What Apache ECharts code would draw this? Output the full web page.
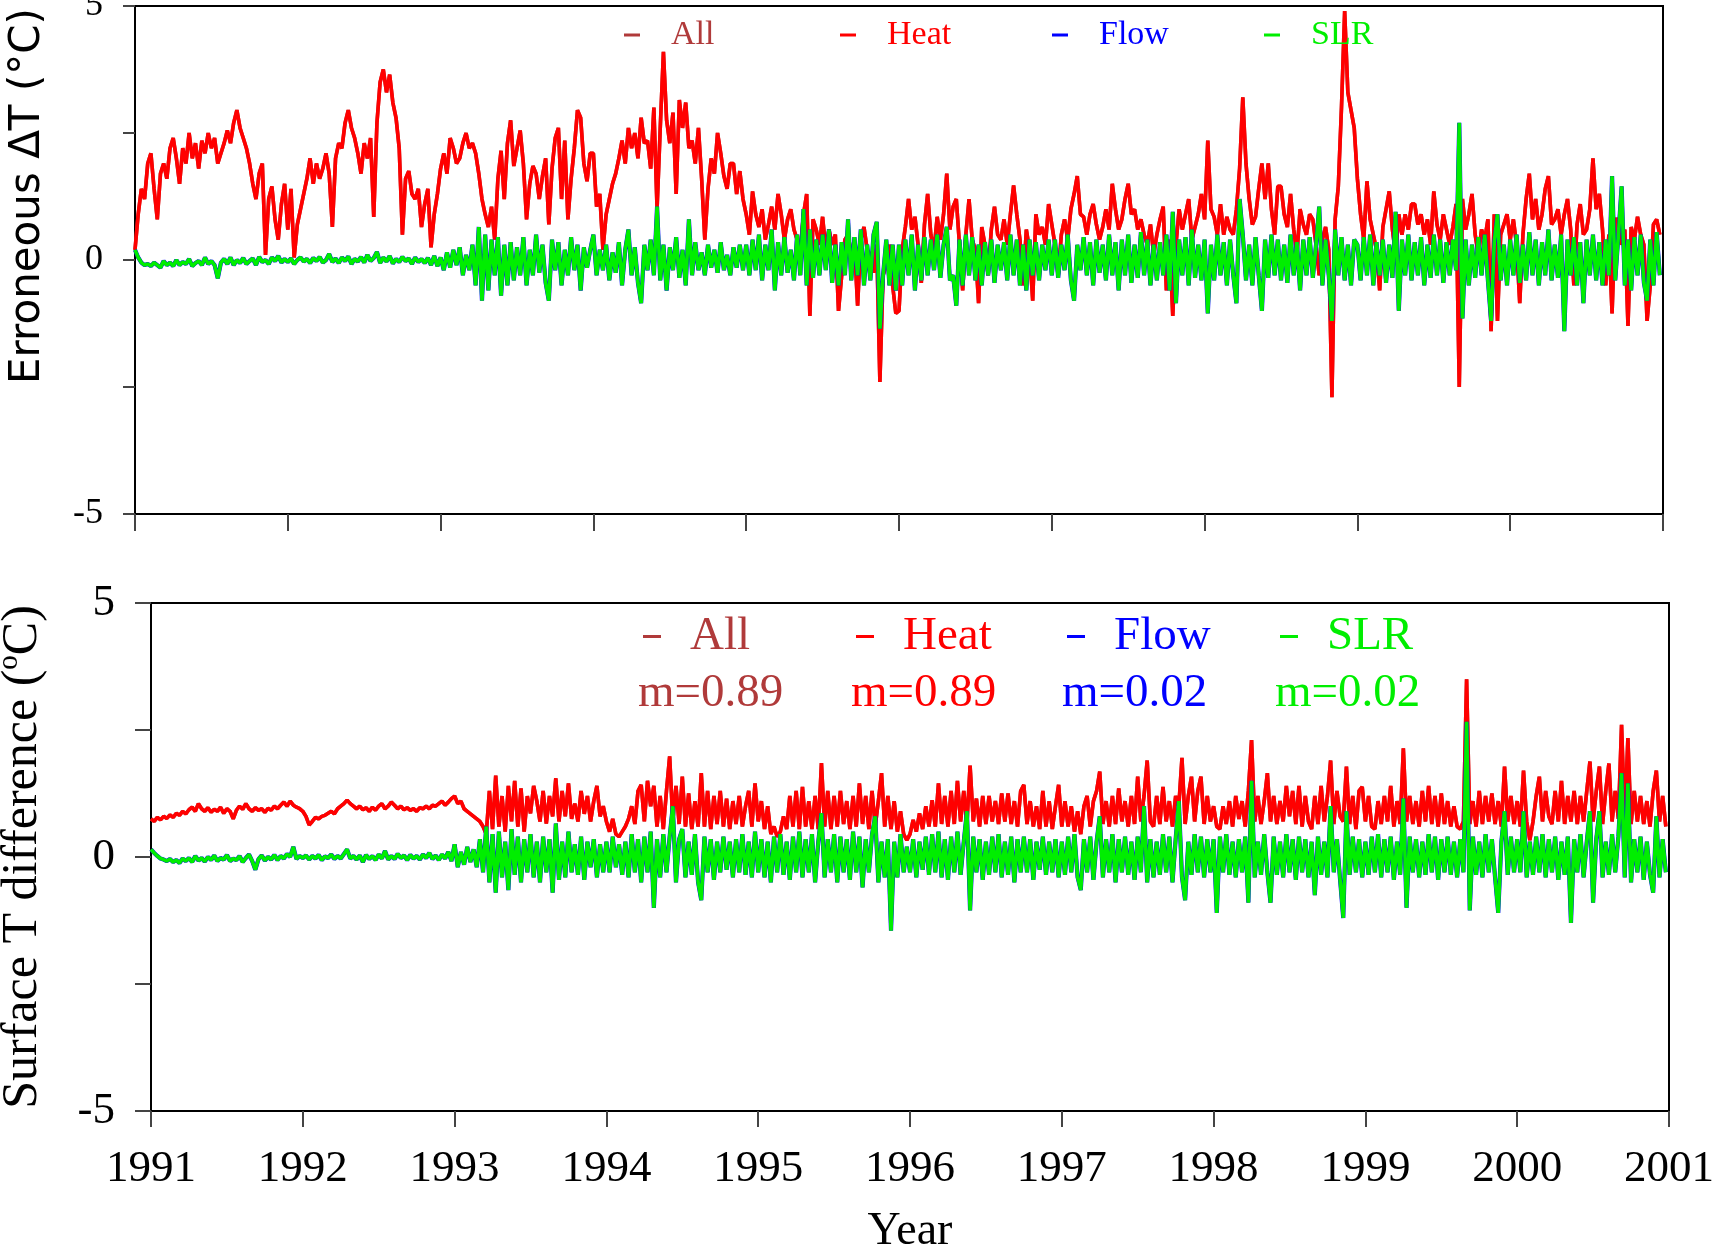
<!DOCTYPE html>
<html>
<head>
<meta charset="utf-8">
<title>Erroneous ΔT / Surface T difference</title>
<script src="https://cdn.jsdelivr.net/npm/echarts@6/dist/echarts.min.js"></script>
<style>
  html, body { margin: 0; padding: 0; background: #fff; }
  #chart { width: 1716px; height: 1254px; }
</style>
</head>
<body>
<div id="chart"></div>
<script>
// x axis: one tick per year
const yearTicks = [1991, 1992, 1993, 1994, 1995, 1996, 1997, 1998, 1999, 2000, 2001];
const seriesNames = ['All', 'Heat', 'Flow', 'SLR'];
const seriesColors = ['#b03a3a', '#ff0000', '#0000ff', '#00ee00'];
const meanLabels = ['m=0.89', 'm=0.89', 'm=0.02', 'm=0.02'];

// values, ~48 samples per year, one row per year (1991..2000)
// "All" lies under "Heat" and "Flow" under "SLR" in both panels, so they share rows
const topHeat = [
  [0.2, 0.9, 1.4, 1.2, 1.9, 2.1, 1.4, 0.8, 1.7, 1.9, 1.6, 2.2, 2.4, 2.0, 1.5, 2.2, 1.9, 2.5, 2.0, 2.3, 1.8, 2.35, 2.1, 2.5, 2.2, 2.4, 1.9, 2.1, 2.3, 2.55, 2.3, 2.7, 2.95, 2.6, 2.4, 2.2, 1.9, 1.5, 1.2, 1.7, 1.9, 0.1, 1.2, 1.45, 0.8, 0.4, 1.1, 1.5],
  [0.6, 1.4, 0.05, 0.7, 1.0, 1.3, 1.6, 2.0, 1.5, 1.9, 1.6, 1.8, 2.1, 1.7, 0.65, 2.0, 2.3, 2.2, 2.7, 2.95, 2.6, 2.4, 2.1, 1.7, 2.3, 2.0, 2.4, 0.85, 2.7, 3.5, 3.75, 3.3, 3.65, 3.1, 2.8, 2.2, 0.5, 1.6, 1.75, 1.3, 1.2, 1.4, 0.65, 1.1, 1.4, 0.25, 0.9, 1.3],
  [1.8, 2.1, 1.7, 2.4, 2.2, 1.9, 2.0, 2.3, 2.5, 2.2, 2.3, 2.1, 1.7, 1.2, 0.9, 0.65, 1.05, 0.4, 1.6, 2.15, 1.2, 2.3, 2.75, 1.85, 2.2, 2.55, 1.9, 0.8, 1.5, 1.85, 1.7, 1.2, 1.65, 2.0, 0.7, 1.8, 2.4, 2.6, 1.2, 2.35, 0.8, 1.6, 2.2, 2.95, 2.8, 1.9, 1.55, 2.1],
  [2.1, 1.05, 1.3, 0.2, 0.9, 1.2, 1.5, 1.7, 2.0, 2.35, 1.9, 2.6, 2.2, 2.5, 2.0, 2.8, 2.3, 2.35, 1.8, 3.0, 1.0, 2.6, 4.1, 2.75, 2.3, 2.9, 1.3, 3.15, 2.6, 3.1, 2.2, 2.35, 1.9, 2.6, 1.6, 0.4, 1.4, 2.0, 1.7, 2.5, 2.1, 1.65, 1.4, 1.9, 1.9, 1.3, 1.75, 1.2],
  [0.9, 0.5, 1.35, 0.9, 0.65, 1.0, 0.4, 0.7, 1.05, 0.6, 1.3, 0.9, 0.4, 0.8, 1.0, 0.6, 0.4, 0.2, 0.9, 1.3, -1.1, 0.8, 0.6, 0.3, 0.85, 0.2, 0.6, 0.3, 0.5, -1.0, -0.3, 0.4, 0.5, 0.1, 0.3, -0.9, 0.4, 0.65, 0.2, 0.1, -0.25, 0.3, -2.4, -0.3, -0.1, 0.3, -0.5, -1.05],
  [-1.0, 0.2, 0.65, 1.2, 0.6, 0.85, 0.3, -0.45, 0.7, 1.3, 0.5, 0.2, 0.85, 0.4, 0.9, 1.7, 0.6, 1.05, 1.2, 0.3, -0.6, 0.5, 1.2, 0.4, 0.2, -0.85, 0.65, 0.3, -0.3, 0.6, 1.05, 0.5, 0.4, 0.8, 0.3, 0.9, 1.47, 0.9, 0.4, -0.5, 0.6, 0.2, -0.8, 0.9, 0.5, 0.65, 0.3, 1.1],
  [0.7, 0.3, -0.3, 0.5, 0.8, 0.4, 1.0, 1.3, 1.65, 0.9, 0.85, 0.5, 0.9, 1.1, 0.7, 0.4, 0.65, 1.0, 0.6, 1.5, 1.0, 0.6, 0.8, 1.2, 1.5, 0.9, 1.0, 0.6, 0.8, 0.5, 0.3, 0.7, 0.1, 0.5, 0.8, 1.05, -0.6, 0.4, -1.1, 0.3, 1.0, 0.6, 0.9, 1.2, 0.4, 0.65, 0.9, 1.3],
  [0.8, 2.35, 1.0, 0.85, 0.5, 1.1, 0.5, 0.85, 0.6, 0.5, 1.0, 1.8, 3.2, 1.9, 1.2, 0.7, 0.85, 1.4, 1.9, 1.2, 1.9, 1.0, 0.5, 1.45, 1.45, 0.9, 0.65, 1.3, 0.6, 0.1, 1.0, 0.7, 0.5, 0.9, 0.8, 0.3, -0.3, 0.4, 0.65, 0.2, -2.7, 0.8, 1.45, 3.0, 4.9, 3.3, 2.95, 2.6],
  [1.6, 0.9, 0.4, 1.55, 0.8, 0.5, 0.2, -0.6, 0.65, 1.0, 1.35, 0.6, 0.1, 0.9, 0.5, 0.9, 0.6, 1.1, 1.1, 0.7, 0.9, 0.5, 0.8, 0.3, 1.35, 0.7, 0.4, 0.9, 0.6, 0.3, 0.65, 1.1, -2.5, 1.2, 0.6, 0.9, 1.3, 0.5, 0.1, 0.6, 0.4, 0.8, -1.4, 0.9, -1.2, 0.5, 0.7, 0.9],
  [0.4, 0.8, 0.3, -0.85, 0.5, 1.2, 1.7, 0.8, 1.2, 0.6, 0.9, 1.4, 1.65, 0.7, 0.8, 1.0, 0.5, 0.9, 1.2, 0.6, -0.5, 0.7, 1.1, 0.5, 0.6, 1.0, 2.0, 1.0, 1.3, 0.6, -0.5, 0.5, -1.05, 0.8, 0.8, 0.3, 0.6, -1.3, 0.65, 0.4, 0.85, 0.5, 0.3, -1.2, -0.5, 0.7, 0.8, 0.5]
];

const topSLR = [
  [0.2, 0.05, -0.05, -0.1, -0.08, -0.12, -0.05, -0.1, -0.15, -0.02, -0.1, -0.05, -0.12, 0.0, -0.1, -0.04, -0.08, 0.02, -0.12, -0.06, -0.02, -0.1, 0.05, -0.08, -0.02, -0.1, -0.36, -0.05, 0.02, -0.08, 0.05, -0.1, 0.0, -0.06, 0.04, -0.08, -0.02, 0.03, -0.1, 0.06, -0.04, 0.0, -0.08, 0.05, -0.02, 0.08, -0.05, 0.02],
  [-0.04, 0.03, -0.08, 0.0, 0.05, -0.03, 0.02, -0.06, 0.04, -0.02, 0.06, -0.05, 0.0, 0.12, -0.04, 0.03, -0.06, 0.05, -0.02, 0.07, -0.08, 0.02, -0.03, 0.06, -0.05, 0.1, -0.02, 0.04, 0.16, -0.06, 0.05, -0.03, 0.08, -0.07, 0.02, -0.04, 0.06, -0.02, 0.03, -0.08, 0.05, -0.04, 0.02, -0.06, 0.04, -0.1, 0.08, -0.12],
  [0.05, -0.2, 0.15, -0.15, 0.2, -0.1, 0.25, -0.3, 0.1, -0.2, 0.3, -0.5, 0.65, -0.8, 0.5, -0.6, 0.4, -0.3, 0.45, -0.7, 0.3, -0.5, 0.35, -0.4, 0.25, -0.3, 0.45, -0.5, 0.2, -0.3, 0.5, -0.25, 0.3, -0.45, -0.8, 0.4, -0.2, 0.35, -0.5, 0.2, -0.3, 0.45, -0.2, 0.3, -0.6, 0.25, -0.15, 0.2],
  [0.5, -0.3, 0.2, -0.2, 0.3, -0.4, 0.15, -0.25, 0.35, -0.5, 0.2, 0.6, -0.3, 0.25, -0.45, -0.85, 0.3, -0.2, 0.4, -0.3, 1.05, -0.4, 0.3, -0.6, 0.25, -0.2, 0.45, -0.35, 0.2, -0.5, 0.8, -0.3, 0.35, -0.2, 0.15, -0.3, 0.3, -0.15, 0.2, -0.25, 0.35, -0.2, 0.1, -0.3, 0.25, -0.15, 0.3, -0.2],
  [0.3, -0.3, 0.4, -0.2, 0.5, -0.4, 0.3, -0.2, 0.6, -0.6, 0.35, -0.3, 0.45, -0.25, 0.2, -0.4, 0.5, -0.3, 1.0, -0.5, 0.6, -0.35, 0.4, -0.3, 0.5, -0.2, 0.6, -0.45, 0.3, -0.5, 0.35, -0.3, 0.8, -0.4, 0.45, -0.3, 0.6, -0.5, 0.3, -0.4, 0.5, 0.75, -1.35, -0.3, 0.4, -0.5, 0.3, -0.6],
  [0.3, -0.5, 0.4, -0.3, 0.5, -0.6, 0.3, -0.4, 0.45, -0.3, 0.4, -0.2, 0.5, -0.35, 0.3, 0.65, -0.4, -0.3, -0.9, 0.4, -0.5, 0.5, -0.3, 0.45, -0.4, 0.3, -0.5, 0.35, -0.3, 0.4, -0.45, 0.3, -0.2, 0.35, -0.4, 0.5, -0.3, 0.4, -0.5, 0.3, -0.6, 0.4, -0.3, 0.35, -0.4, 0.3, -0.2, 0.4],
  [-0.3, 0.4, -0.35, 0.3, -0.2, 0.5, -0.4, -0.8, 0.3, -0.2, 0.45, -0.3, 0.35, -0.5, 0.4, -0.25, 0.3, -0.4, 0.5, -0.3, 0.35, -0.6, 0.4, -0.3, 0.5, -0.45, 0.3, -0.35, 0.55, -0.3, 0.4, -0.5, 0.3, -0.4, 0.35, -0.3, 0.5, -0.6, 0.95, -0.85, 0.4, -0.3, 0.45, -0.5, 0.6, -0.35, 0.3, -0.4],
  [0.4, -1.05, 0.3, -0.4, 0.5, -0.3, 0.35, -0.5, 0.4, -0.3, -0.85, 1.2, 0.5, -0.4, 0.3, -0.5, 0.45, -0.3, -1.0, 0.4, -0.35, 0.5, -0.3, 0.4, -0.4, 0.3, -0.45, 0.5, -0.3, 0.35, -0.6, 0.4, -0.3, 0.45, -0.35, 0.3, 1.05, -0.5, 0.4, -0.3, -1.2, 0.6, -0.3, 0.45, -0.4, 0.3, -0.5, 0.4],
  [0.3, -0.4, 0.45, -0.3, 0.5, -0.5, 0.35, -0.3, 0.4, -0.45, 0.3, -0.35, 0.95, -1.0, 0.4, -0.3, 0.5, -0.4, 0.35, -0.3, 0.45, -0.5, 0.3, -0.35, 0.5, -0.3, 0.4, -0.45, 0.35, -0.3, 0.4, -0.2, 2.7, -1.15, 0.4, -0.5, 0.3, -0.35, 0.45, -0.3, 0.5, -0.4, -1.2, 0.35, 0.9, -0.4, 0.3, -0.5],
  [0.4, -0.3, 0.5, -0.45, 0.3, -0.4, 0.55, -0.3, 0.4, -0.5, 0.35, -0.3, 0.6, -0.4, 0.3, -0.35, 0.5, -1.4, 0.4, -0.3, 0.45, -0.5, 0.35, -0.85, 0.4, -0.3, 0.5, -0.4, 0.35, -0.5, 0.4, -0.3, 1.65, -0.4, 0.5, 1.45, -0.5, 0.4, -0.6, 0.45, -0.3, 0.5, -0.45, -0.8, 0.4, -0.5, 0.55, -0.3]
];

const botHeat = [
  [0.75, 0.7, 0.78, 0.73, 0.8, 0.76, 0.83, 0.78, 0.86, 0.82, 0.9, 0.85, 0.93, 0.98, 0.9, 1.05, 0.95, 0.9, 0.97, 0.88, 0.94, 0.9, 0.98, 0.86, 0.95, 0.9, 0.75, 0.92, 1.0, 0.94, 1.05, 0.95, 0.9, 0.97, 0.92, 0.95, 0.88, 0.96, 0.92, 1.0, 0.95, 1.02, 1.08, 1.0, 1.1, 1.02, 0.98, 0.95],
  [0.9, 0.8, 0.63, 0.7, 0.78, 0.75, 0.8, 0.82, 0.86, 0.9, 0.85, 0.95, 1.0, 1.05, 1.12, 1.05, 1.0, 0.95, 1.0, 0.93, 0.97, 0.9, 0.98, 0.92, 1.0, 1.05, 0.95, 1.0, 1.08, 1.02, 0.95, 1.0, 0.93, 0.97, 0.92, 0.95, 0.9, 0.97, 0.95, 1.0, 0.95, 1.02, 1.0, 1.05, 1.1, 1.02, 1.08, 1.15],
  [1.2, 1.05, 1.1, 0.95, 0.9, 0.85, 0.8, 0.75, 0.7, 0.6, 0.45, 1.3, 0.55, 1.6, 0.6, 1.2, 0.5, 1.4, 0.7, 1.5, 0.6, 1.35, 0.5, 1.2, 0.86, 1.4, 1.1, 0.7, 1.3, 0.66, 1.2, 0.8, 1.55, 0.7, 1.3, 0.8, 1.45, 0.75, 1.05, 0.7, 1.3, 0.85, 1.2, 0.7, 1.1, 1.4, 0.8, 1.0],
  [0.7, 0.5, 0.75, 0.45, 0.4, 0.5, 0.6, 0.75, 1.0, 0.65, 1.3, 1.42, 0.7, 1.5, 1.0, 1.4, 0.6, 1.2, 0.55, 1.3, 1.98, 0.7, 1.4, 0.65, 1.58, 0.6, 1.25, 0.55, 1.1, 0.6, 1.65, 0.6, 1.3, 0.55, 1.2, 0.65, 1.3, 0.6, 1.15, 0.55, 1.1, 0.65, 1.2, 0.6, 1.0, 1.3, 0.6, 1.45],
  [0.7, 1.1, 0.55, 1.0, 0.45, 0.6, 0.4, 0.5, 0.8, 0.55, 1.2, 0.6, 1.3, 0.55, 1.38, 0.6, 1.1, 0.55, 1.2, 0.55, 1.85, 0.6, 1.3, 0.55, 1.2, 0.6, 1.3, 0.65, 1.1, 0.55, 1.2, 0.6, 1.45, 0.65, 1.2, 0.55, 1.3, 0.6, 1.1, 1.65, 0.6, 1.2, 0.55, 1.1, 0.5, 0.9, 0.45, 0.33],
  [0.45, 0.73, 0.5, 0.86, 0.55, 1.0, 0.6, 1.12, 0.6, 1.45, 0.65, 1.2, 0.6, 1.3, 0.65, 1.5, 0.7, 1.3, 0.65, 1.8, 0.7, 1.15, 0.6, 1.2, 0.65, 1.2, 0.7, 1.1, 0.65, 1.25, 0.7, 1.25, 0.65, 1.1, 0.6, 1.3, 1.42, 0.65, 1.1, 0.6, 1.0, 0.55, 1.3, 0.6, 1.1, 0.55, 1.0, 1.42],
  [0.6, 1.1, 0.6, 1.0, 0.5, 0.9, 0.45, 1.0, 1.2, 0.6, 1.1, 1.3, 1.68, 0.65, 1.1, 0.6, 1.2, 0.65, 1.35, 0.7, 1.1, 0.6, 1.2, 0.65, 1.58, 0.7, 1.2, 1.9, 0.7, 0.6, 1.2, 0.65, 1.38, 0.7, 1.1, 0.6, 1.2, 1.0, 1.95, 0.65, 1.2, 1.58, 0.7, 1.3, 1.58, 0.65, 1.2, 0.7],
  [1.0, 0.6, 0.55, 1.0, 0.65, 1.1, 0.6, 1.2, 0.75, 1.1, 0.6, 1.3, 2.3, 0.7, 1.2, 0.65, 1.1, 1.65, 0.7, 1.2, 0.65, 1.1, 0.7, 1.4, 0.8, 1.3, 0.65, 1.4, 0.6, 1.2, 0.7, 0.55, 1.2, 0.65, 1.4, 0.7, 1.2, 1.9, 0.65, 1.3, 0.8, 0.7, 1.78, 0.65, 1.2, 0.55, 1.3, 1.38],
  [0.7, 1.2, 0.6, 0.55, 1.1, 0.65, 1.2, 0.7, 1.4, 0.6, 1.1, 0.65, 2.14, 0.7, 1.2, 0.65, 1.1, 0.6, 1.3, 0.7, 1.4, 0.65, 1.2, 0.6, 1.25, 0.65, 1.1, 0.6, 1.0, 0.6, 0.55, 0.7, 3.5, 0.65, 1.1, 0.6, 1.3, 0.65, 1.2, 0.7, 1.25, 0.65, 1.1, 0.6, 1.78, 0.7, 1.2, 0.65],
  [1.1, 0.6, 1.7, 0.7, 0.33, 0.7, 1.2, 1.58, 0.7, 1.3, 0.8, 0.65, 1.3, 0.7, 1.5, 0.65, 1.2, 0.7, 1.3, 0.65, 1.2, 0.7, 1.3, 1.88, 0.7, 1.3, 1.78, 0.65, 1.3, 1.84, 0.7, 1.3, 0.75, 2.6, 0.7, 2.34, 0.65, 1.3, 0.7, 1.2, 0.65, 1.1, 0.6, 1.3, 1.7, 0.7, 1.2, 0.6]
];

const botSLR = [
  [0.15, 0.08, 0.02, -0.03, -0.05, -0.08, -0.04, -0.1, -0.06, -0.12, -0.03, -0.08, -0.02, -0.1, 0.02, -0.07, -0.02, -0.09, 0.0, -0.06, 0.03, -0.08, -0.02, -0.05, 0.04, -0.08, -0.03, -0.06, 0.02, -0.1, -0.02, 0.05, -0.08, -0.25, -0.04, 0.03, -0.07, 0.0, -0.05, 0.04, -0.06, 0.02, -0.03, 0.06, 0.0, 0.2, -0.04, 0.02],
  [-0.02, 0.03, -0.05, 0.02, -0.03, 0.04, -0.06, 0.01, -0.02, 0.05, -0.04, 0.02, -0.03, 0.06, 0.15, -0.03, 0.02, -0.05, 0.03, -0.1, 0.04, -0.04, 0.02, -0.06, 0.05, -0.03, 0.12, -0.05, 0.02, -0.04, 0.06, -0.02, 0.03, -0.06, 0.04, -0.03, 0.02, -0.05, 0.05, -0.02, 0.08, -0.04, 0.03, -0.06, 0.05, -0.03, 0.1, -0.08],
  [0.25, -0.2, 0.1, -0.15, 0.2, -0.1, 0.15, -0.2, 0.35, -0.3, 0.6, -0.5, 0.45, -0.7, 0.5, -0.4, 0.3, -0.65, 0.55, -0.35, 0.4, -0.5, 0.35, -0.3, 0.45, -0.4, 0.3, -0.5, 0.4, -0.3, 0.35, -0.7, 0.66, -0.45, 0.3, -0.4, 0.5, -0.3, 0.25, -0.35, 0.4, -0.45, 0.3, -0.2, 0.35, -0.4, 0.25, -0.3],
  [0.3, -0.3, 0.4, -0.2, 0.25, -0.35, 0.3, -0.4, 0.45, -0.3, 0.35, -0.5, 0.4, -0.3, 0.5, -1.0, 0.35, -0.4, 0.45, -0.3, 0.4, 1.0, -0.5, 0.35, 0.55, -0.4, 0.3, -0.35, 0.45, -0.5, -0.85, 0.4, -0.3, 0.35, -0.45, 0.3, -0.3, 0.4, -0.25, 0.3, -0.4, 0.35, -0.3, 0.45, -0.35, 0.3, -0.4, 0.5],
  [-0.3, 0.35, -0.4, 0.3, -0.5, 0.4, -0.3, 0.45, -0.35, 0.3, -0.45, 0.4, -0.3, 0.5, -0.4, 0.35, -0.3, 0.45, -0.5, 0.3, 0.86, -0.4, 0.35, -0.3, 0.45, -0.5, 0.4, -0.3, 0.35, -0.45, 0.5, -0.3, 0.4, -0.6, 0.35, -0.3, 0.45, 0.8, -0.5, 0.3, -0.4, 0.35, -1.45, 0.3, -0.4, 0.45, -0.3, 0.2],
  [-0.3, 0.35, -0.4, 0.3, -0.25, 0.4, -0.35, 0.45, -0.3, 0.5, -0.4, 0.35, -0.45, 0.4, -0.3, 0.5, -0.35, 0.3, 0.9, -1.05, 0.4, -0.3, 0.35, -0.45, 0.3, -0.35, 0.4, -0.3, 0.45, -0.4, 0.3, -0.35, 0.4, -0.5, 0.35, -0.3, 0.4, -0.3, 0.35, -0.45, 0.3, -0.25, 0.4, -0.35, 0.3, -0.3, 0.35, -0.4],
  [0.3, -0.35, 0.4, -0.3, 0.45, -0.4, -0.65, 0.35, -0.3, 0.4, -0.45, 0.3, 0.8, -0.4, 0.35, -0.3, 0.45, -0.5, 0.35, -0.3, 0.4, -0.35, 0.3, -0.45, 0.4, -0.3, 1.0, -0.5, 0.35, -0.4, 0.3, -0.35, 0.45, -0.3, 0.4, -0.5, 0.35, 1.1, -0.4, -0.85, 0.3, -0.35, 0.45, -0.3, 0.4, -0.4, 0.35, -0.3],
  [0.35, -1.1, 0.4, -0.3, 0.45, -0.35, 0.3, -0.4, 0.35, -0.3, 0.4, -0.9, 1.5, -0.4, 0.3, -0.35, 0.45, -0.3, -0.9, 0.4, -0.35, 0.3, -0.4, 0.45, -0.3, 0.35, -0.45, 0.4, -0.3, 0.35, -0.4, 0.3, -0.75, 0.4, -0.35, 0.3, -0.4, 1.0, -0.3, 0.35, -0.45, -1.2, 0.9, -0.35, 0.4, -0.3, 0.35, -0.4],
  [0.3, -0.35, 0.4, -0.3, 0.45, -0.4, 0.35, -0.3, 0.4, -0.45, 0.3, -0.35, 1.15, -1.0, 0.4, -0.3, 0.35, -0.4, 0.3, -0.35, 0.45, -0.3, 0.4, -0.45, 0.35, -0.3, 0.4, -0.35, 0.3, -0.4, 0.35, -0.3, 2.66, -1.05, 0.4, -0.35, 0.3, -0.4, 0.45, -0.3, 0.35, -0.4, -1.1, 0.3, 0.9, -0.35, 0.4, -0.3],
  [0.35, -0.3, 0.9, -0.4, 0.3, -0.35, 0.4, -0.3, 0.45, -0.4, 0.35, -0.3, 0.4, -0.45, 0.3, -0.35, 0.4, -1.3, 0.35, -0.3, 0.45, -0.4, 0.3, 0.9, -0.9, 0.35, 0.9, -0.4, 0.3, -0.35, 0.45, -0.3, 0.4, 1.65, -0.4, 1.45, -0.5, 0.35, -0.3, 0.4, -0.45, 0.3, -0.35, -0.7, 0.8, -0.4, 0.35, -0.3]
];

// turn year rows into [decimal year, value] pairs
function toPoints(rows) {
  return rows.flatMap((row, y) => row.map((v, k) => [yearTicks[y] + k / row.length, v]));
}

const panelData = [
  [toPoints(topHeat), toPoints(topHeat), toPoints(topSLR), toPoints(topSLR)],
  [toPoints(botHeat), toPoints(botHeat), toPoints(botSLR), toPoints(botSLR)]
];
const lineWidths = [3.6, 3.6, 4.2, 3.6];

const serif = 'Liberation Serif';
const topLegendX = [619, 835, 1047, 1259];
const botLegendX = [638, 851, 1062, 1275];

let myChart = echarts.init(document.getElementById('chart'));

let series = [];
panelData.forEach((panel, p) => {
  panel.forEach((data, i) => {
    series.push({
      name: seriesNames[i],
      type: 'line',
      xAxisIndex: p,
      yAxisIndex: p,
      data: data,
      showSymbol: false,
      symbol: 'none',
      color: seriesColors[i],
      lineStyle: { color: seriesColors[i], width: lineWidths[i], join: 'bevel' },
      z: 2 + i
    });
  });
});

let legends = [];
seriesNames.forEach((n, i) => {
  legends.push({
    data: [n], left: topLegendX[i], top: 13, icon: 'rect',
    itemWidth: 16, itemHeight: 3, selectedMode: false,
    textStyle: { color: seriesColors[i], fontFamily: serif, fontSize: 34, padding: [0, 0, 0, 26] }
  });
  legends.push({
    data: [n], left: botLegendX[i], top: 608, icon: 'rect',
    itemWidth: 18, itemHeight: 3, selectedMode: false,
    textStyle: { color: seriesColors[i], fontFamily: serif, fontSize: 47, padding: [0, 0, 0, 24] }
  });
});

let graphics = meanLabels.map((t, i) => ({
  type: 'text', left: botLegendX[i], top: 670,
  style: { text: t, fill: seriesColors[i], font: '47px "Liberation Serif"' }
}));
graphics.push({
  type: 'text', x: 28, y: 196, rotation: Math.PI / 2,
  style: { text: 'Erroneous ΔT (°C)', fill: '#000', font: '42px "DejaVu Sans"', align: 'center', verticalAlign: 'middle' }
});

const yLabel = v => (v % 5 === 0 ? String(v) : '');

myChart.setOption({
  animation: false,
  backgroundColor: '#fff',
  legend: legends,
  graphic: graphics,
  grid: [
    { left: 135, right: 53, top: 6, height: 508, outerBoundsMode: 'none', show: true, borderColor: '#000', borderWidth: 2 },
    { left: 151, right: 47, top: 603, height: 508, outerBoundsMode: 'none', show: true, borderColor: '#000', borderWidth: 2 }
  ],
  xAxis: [
    {
      gridIndex: 0, type: 'value', min: 1991, max: 2001, interval: 1,
      axisLine: { onZero: false, lineStyle: { color: '#000', width: 2 } },
      axisTick: { length: 17, lineStyle: { color: '#444', width: 2 } },
      axisLabel: { show: false },
      splitLine: { show: false }
    },
    {
      gridIndex: 1, type: 'value', min: 1991, max: 2001, interval: 1,
      axisLine: { onZero: false, lineStyle: { color: '#000', width: 2 } },
      axisTick: { length: 16, lineStyle: { color: '#444', width: 2 } },
      axisLabel: { fontFamily: serif, fontSize: 45, color: '#000', margin: 36, formatter: v => String(v) },
      splitLine: { show: false },
      name: 'Year', nameLocation: 'middle', nameGap: 98,
      nameTextStyle: { fontFamily: serif, fontSize: 46, color: '#000' }
    }
  ],
  yAxis: [
    {
      gridIndex: 0, type: 'value', min: -5, max: 5, interval: 2.5,
      axisLine: { onZero: false, lineStyle: { color: '#000', width: 2 } },
      axisTick: { length: 12, lineStyle: { color: '#444', width: 2 } },
      axisLabel: { fontFamily: serif, fontSize: 36, color: '#000', margin: 32, formatter: yLabel },
      splitLine: { show: false }
    },
    {
      gridIndex: 1, type: 'value', min: -5, max: 5, interval: 2.5,
      axisLine: { onZero: false, lineStyle: { color: '#000', width: 2 } },
      axisTick: { length: 16, lineStyle: { color: '#444', width: 2 } },
      axisLabel: { fontFamily: serif, fontSize: 45, color: '#000', margin: 36, formatter: yLabel },
      splitLine: { show: false },
      name: '{t|Surface T difference (}{s|o}{t|C)}',
      nameLocation: 'middle', nameGap: 100,
      nameTextStyle: {
        rich: {
          t: { fontFamily: serif, fontSize: 50, color: '#000', lineHeight: 56 },
          s: { fontFamily: serif, fontSize: 29, color: '#000', verticalAlign: 'top', lineHeight: 56 }
        }
      }
    }
  ],
  series: series
});
</script>
</body>
</html>
